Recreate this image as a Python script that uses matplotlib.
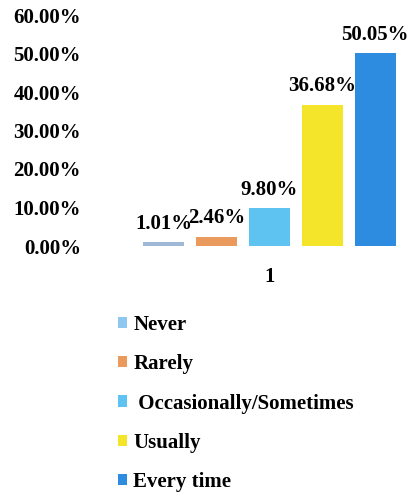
import matplotlib.pyplot as plt
from matplotlib.patches import Patch

categories = ["Never", "Rarely", "Occasionally/Sometimes", "Usually", "Every time"]
legend_labels = ["Never", "Rarely", " Occasionally/Sometimes", "Usually", "Every time"]
values = [1.01, 2.46, 9.80, 36.68, 50.05]
group_label = ["1"]
bar_colors = ["#9fb8d6", "#e99a5c", "#5ec3f0", "#f4e52a", "#2e8ce0"]
marker_colors = ["#8ec8ee", "#e99a5c", "#5ec3f0", "#f4e52a", "#2e8ce0"]

plt.rcParams['font.family'] = ['Liberation Serif', 'DejaVu Serif']
plt.rcParams['font.weight'] = 'bold'
fs = 15

fig = plt.figure(figsize=(4.11, 4.97), dpi=100)
W, H = 411, 497
left, right, bottom, top = 88, 405, 246, 15
ax = fig.add_axes([left / W, 1 - bottom / H, (right - left) / W, (bottom - top) / H])

# bar layout in pixels -> data units
step = 52.9
center = 269.5
width = 0.77

for i, v in enumerate(values):
    b = ax.bar(i - 2, v, width=width, color=bar_colors[i])
    ax.bar_label(b, labels=[f"{v:.2f}%"], padding=6, fontsize=fs, fontweight='bold')

ax.set_xlim((left - center) / step, (right - center) / step)
ax.set_ylim(0, 60)
ax.set_yticks(range(0, 61, 10))
ax.set_yticklabels([f"{t:.2f}%" for t in range(0, 61, 10)], fontsize=fs, fontweight='bold')
ax.set_xticks([0])
ax.set_xticklabels(group_label, fontsize=fs, fontweight='bold')
ax.tick_params(axis='y', length=0, pad=5)
ax.tick_params(axis='x', length=0, pad=15)
for s in ax.spines.values():
    s.set_visible(False)

handles = [Patch(facecolor=marker_colors[i]) for i in range(5)]
fig.legend(handles, legend_labels, loc='upper left', bbox_to_anchor=(99 / W, 1 - 296 / H),
           frameon=False, handlelength=0.45, handleheight=0.45,
           handletextpad=0.3, labelspacing=0.93, prop={'weight': 'bold', 'size': fs})

fig.savefig("out.png", dpi=100)
